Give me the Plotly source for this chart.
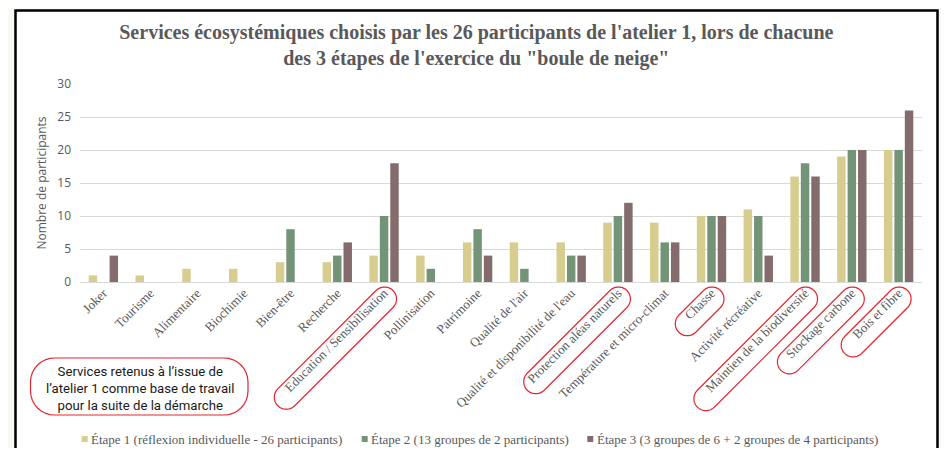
import math
import plotly.graph_objects as go

# ---------------- data ----------------
categories = ["Joker", "Tourisme", "Alimentaire", "Biochimie", "Bien-être", "Recherche",
              "Education / Sensibilisation", "Pollinisation", "Patrimoine", "Qualité de l'air",
              "Qualité et disponibilité de l'eau", "Protection aléas naturels",
              "Température et micro-climat", "Chasse", "Activité récréative",
              "Maintien de la biodiversité", "Stockage carbone", "Bois et fibre"]
etape1 = [1, 1, 2, 2, 3, 3, 4, 4, 6, 6, 6, 9, 9, 10, 11, 16, 19, 20]
etape2 = [0, 0, 0, 0, 8, 4, 10, 2, 8, 2, 4, 10, 6, 10, 10, 18, 20, 20]
etape3 = [4, 0, 0, 0, 0, 6, 18, 0, 4, 0, 4, 12, 6, 10, 4, 16, 20, 26]
series_names = ["Étape 1 (réflexion individuelle - 26 participants)",
                "Étape 2 (13 groupes de 2 participants)",
                "Étape 3 (3 groupes de 6 + 2 groupes de 4 participants)"]
y_ticks = [0, 5, 10, 15, 20, 25, 30]
highlighted = ["Education / Sensibilisation", "Protection aléas naturels", "Chasse",
               "Maintien de la biodiversité", "Stockage carbone", "Bois et fibre"]
note_text = "Services retenus à l’issue de<br>l’atelier 1 comme base de travail<br>pour la suite de la démarche"

# ---------------- style / layout (page body has an 8px margin) ----------------
colors = ["#d6cd8e", "#749478", "#856c6c"]
GRAY = "#595959"
RED = "#e3262f"
OFF = 8
W_FIG, H_FIG = 949 - 2 * OFF, 456 - 2 * OFF
# plot area in page pixels: x 80..922, y 84..282
PL, PR, PT, PB = 80, 922, 84, 282
ML, MT = PL - OFF, PT - OFF
MR = W_FIG - (PR - OFF)
MB = H_FIG - (PB - OFF)
PW = PR - PL
PH = PB - PT


def px2p(x, y):
    """page pixel -> paper coords"""
    return (x - PL) / PW, (PB - y) / PH


def path_from_px(points):
    pts = [px2p(x, y) for x, y in points]
    return "M" + " L".join(f"{a:.5f},{b:.5f}" for a, b in pts) + " Z"


def capsule(ux, uy, length, r=12, n=14):
    s = 1 / math.sqrt(2)
    u = (-s, s)
    nv = (s, s)
    dx, dy = ux + length * u[0], uy + length * u[1]
    pts = []
    for k in range(n + 1):
        t = math.pi * k / n
        pts.append((dx + r * (math.cos(t) * nv[0] + math.sin(t) * u[0]),
                    dy + r * (math.cos(t) * nv[1] + math.sin(t) * u[1])))
    for k in range(n + 1):
        t = math.pi * k / n
        pts.append((ux + r * (-math.cos(t) * nv[0] - math.sin(t) * u[0]),
                    uy + r * (-math.cos(t) * nv[1] - math.sin(t) * u[1])))
    return path_from_px(pts)


def rounded_rect(x0, y0, x1, y1, r, n=8):
    pts = []
    corners = [(x1 - r, y0 + r, -90), (x1 - r, y1 - r, 0), (x0 + r, y1 - r, 90), (x0 + r, y0 + r, 180)]
    for cx, cy, a0 in corners:
        for k in range(n + 1):
            a = math.radians(a0 + 90 * k / n)
            pts.append((cx + r * math.cos(a), cy + r * math.sin(a)))
    return path_from_px(pts)


fig = go.Figure()
for name, vals, col in zip(series_names, [etape1, etape2, etape3], colors):
    fig.add_trace(go.Bar(x=categories, y=vals, name=name, marker_color=col,
                         marker_line_width=0, showlegend=False))

shapes = []
# frame
fx0, fy0 = px2p(15.5, 10.5)
fx1, fy1 = px2p(937.5, 480)
shapes.append(dict(type="rect", xref="paper", yref="paper", x0=fx0, y0=fy1, x1=fx1, y1=fy0,
                   line=dict(color="black", width=2.5), fillcolor="white", layer="below"))

# highlight capsules around tick labels
cap_len = {"Education / Sensibilisation": 139, "Protection aléas naturels": 117, "Chasse": 35,
           "Maintien de la biodiversité": 141, "Stockage carbone": 89, "Bois et fibre": 65}
for cat in highlighted:
    i = categories.index(cat)
    cx = PL + PW * (i + 0.5) / len(categories)
    shapes.append(dict(type="path", xref="paper", yref="paper", path=capsule(cx + 0.5, 299, cap_len[cat]),
                       line=dict(color=RED, width=1.2)))

# note box
shapes.append(dict(type="path", xref="paper", yref="paper", path=rounded_rect(30.5, 358, 248, 415, 24),
                   line=dict(color=RED, width=1.2)))

annotations = []
nx, ny = px2p(139.5, 388)
annotations.append(dict(xref="paper", yref="paper", x=nx, y=ny, text=note_text, showarrow=False,
                        xanchor="center", yanchor="middle", align="center",
                        font=dict(family="Roboto", size=13.2, color="#1a1a1a")))

# custom legend
leg_x = [81.7, 361.7, 587.3]
leg_y = 439
for name, col, lx in zip(series_names, colors, leg_x):
    a0, b0 = px2p(lx, leg_y + 3)
    a1, b1 = px2p(lx + 6, leg_y - 3)
    shapes.append(dict(type="rect", xref="paper", yref="paper", x0=a0, y0=b0, x1=a1, y1=b1,
                       line=dict(width=0), fillcolor=col))
    tx, ty = px2p(lx + 7.5, leg_y)
    annotations.append(dict(xref="paper", yref="paper", x=tx, y=ty, text=name, showarrow=False,
                            xanchor="left", yanchor="middle",
                            font=dict(family="Liberation Serif", size=13, color=GRAY)))

fig.update_layout(
    width=W_FIG, height=H_FIG, autosize=False,
    margin=dict(l=ML, r=MR, t=MT, b=MB, pad=0),
    paper_bgcolor="#fafaf4", plot_bgcolor="rgba(0,0,0,0)",
    barmode="group", bargap=0.33, bargroupgap=0.19,
    title=dict(text="<b>Services écosystémiques choisis par les 26 participants de l'atelier 1, lors de chacune<br>"
                    "des 3 étapes de l'exercice du \"boule de neige\"</b>",
               xref="container", yref="container", x=0.502, y=1 - 31 / H_FIG,
               xanchor="center", yanchor="middle",
               font=dict(family="Liberation Serif", size=20, color=GRAY)),
    xaxis=dict(tickangle=-45, tickfont=dict(family="Liberation Serif", size=13, color=GRAY),
               showgrid=False, showline=False, ticks=""),
    yaxis=dict(range=[0, 30], tickvals=y_ticks, gridcolor="#d9d9d9", gridwidth=1,
               zeroline=True, zerolinecolor="#d9d9d9", zerolinewidth=1,
               tickfont=dict(family="Open Sans", size=12, color=GRAY), ticklabelstandoff=8,
               title=dict(text="Nombre de participants", standoff=8,
                          font=dict(family="Open Sans", size=12, color=GRAY))),
    shapes=shapes, annotations=annotations, showlegend=False,
)

fig.write_html("out.html")
